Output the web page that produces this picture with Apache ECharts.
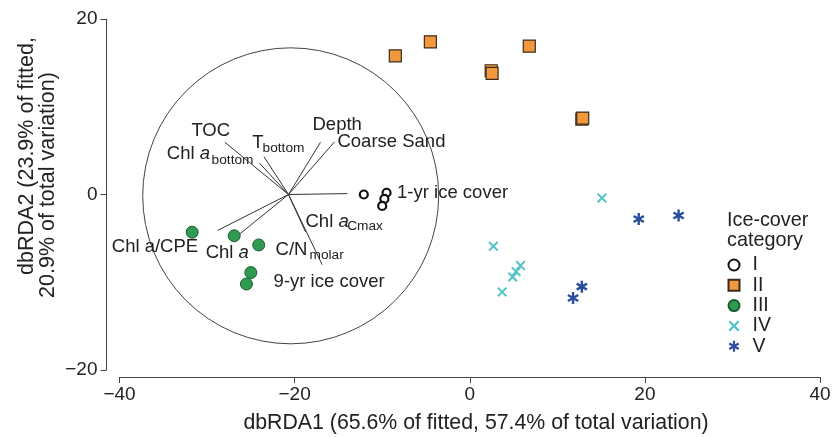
<!DOCTYPE html>
<html><head><meta charset="utf-8">
<script src="https://cdn.jsdelivr.net/npm/echarts@6/dist/echarts.min.js"></script>
<style>html,body{margin:0;padding:0;background:#fff}#c{width:833px;height:437px}</style>
</head><body><div id="c"></div>
<script>
// ---- data ----
const xTicks = [-40, -20, 0, 20, 40];
const yTicks = [-20, 0, 20];
const groupNames = ['I', 'II', 'III', 'IV', 'V'];
const catI = [[-12.1, 0.0], [-9.5, 0.2], [-9.75, -0.5], [-10.0, -1.3]];
const catII = [[-8.5, 15.8], [-4.5, 17.4], [2.45, 14.1], [2.55, 13.8], [6.8, 16.9], [12.8, 8.6], [12.9, 8.7]];
const catIII = [[-31.7, -4.3], [-26.9, -4.7], [-24.1, -5.75], [-25.0, -8.9], [-25.5, -10.2]];
const catIV = [[15.1, -0.4], [2.7, -5.9], [5.8, -8.1], [5.3, -8.8], [4.9, -9.4], [3.7, -11.1]];
const catV = [[19.3, -2.8], [23.85, -2.4], [12.8, -10.5], [11.8, -11.8]];
const vectorOrigin = [-20.7, 0.0];
const vectorNames = ['TOC', 'Chl a bottom', 'T bottom', 'Depth', 'Coarse Sand', '1-yr ice cover', 'Chl a/CPE', 'Chl a', 'C/N molar', 'Chl a Cmax'];
const vectorEnds = [[-27.96, 5.95], [-24.0, 3.56], [-23.5, 4.3], [-17.05, 5.95], [-15.45, 6.0], [-13.97, 0.1], [-28.8, -4.1], [-26.4, -4.6], [-16.85, -8.0], [-18.75, -4.27]];
const circleCenter = [-20.45, -0.15];
const circleRadius = 16.9;
const xTitle = 'dbRDA1 (65.6% of fitted, 57.4% of total variation)';
const yTitle1 = 'dbRDA2 (23.9% of fitted,';
const yTitle2 = '20.9% of total variation)';
const legendTitle = ['Ice-cover', 'category'];

const FF = '"Liberation Sans", Arial, Helvetica, sans-serif';
const INK = '#222';
const AX = '#444';

const xPath = 'path://M0,1.4L1.4,0L10,8.6L8.6,10ZM8.6,0L10,1.4L1.4,10L0,8.6Z';
const starPath = 'path://M4,10L6,10L6,0L4,0ZM8.8,8.37L9.8,6.63L1.2,1.63L0.2,3.37ZM0.2,6.63L1.2,8.37L9.8,3.37L8.8,1.63Z';

const fmt = v => (xTicks.includes(v) || yTicks.includes(v)) ? (v < 0 ? '\u2212' + Math.abs(v) : String(v)) : '';

const chart = echarts.init(document.getElementById('c'), null, {renderer: 'canvas'});
const option = {
  backgroundColor: '#fff',
  animation: false,
  grid: {left: 119.5, right: 13, top: 19, bottom: 67, containLabel: false, outerBoundsMode: 'none'},
  xAxis: {
    type: 'value', min: -40, max: 40, interval: 20, offset: 7,
    axisLine: {show: true, onZero: false, lineStyle: {color: AX, width: 1}},
    axisTick: {show: true, length: 6, lineStyle: {color: AX, width: 1}},
    axisLabel: {fontSize: 19, color: INK, margin: 8, fontFamily: FF, formatter: fmt},
    splitLine: {show: false}
  },
  yAxis: {
    type: 'value', min: -20, max: 20, interval: 20, offset: 13,
    axisLine: {show: true, onZero: false, lineStyle: {color: AX, width: 1}},
    axisTick: {show: true, length: 6, lineStyle: {color: AX, width: 1}},
    axisLabel: {fontSize: 19, color: INK, margin: 9, fontFamily: FF, formatter: fmt},
    splitLine: {show: false}
  },
  legend: {
    orient: 'vertical', left: 727.5, top: 255, padding: 0,
    itemWidth: 11, itemHeight: 11, itemGap: 0.3,
    textStyle: {fontSize: 19.5, color: INK, fontFamily: FF, lineHeight: 20, padding: [0, 0, 0, 8]},
    data: groupNames
  },
  series: [
    {
      type: 'custom', silent: true, z: 1,
      renderItem: (params, api) => {
        const c = api.coord([api.value(0), api.value(1)]);
        const r = api.size([api.value(2), 0])[0];
        return {type: 'circle', shape: {cx: c[0], cy: c[1], r: r}, style: {fill: 'none', stroke: AX, lineWidth: 1}};
      },
      data: [[circleCenter[0], circleCenter[1], circleRadius]]
    },
    {
      type: 'lines', coordinateSystem: 'cartesian2d', silent: true, z: 2,
      lineStyle: {color: '#333', width: 1, opacity: 1},
      data: vectorEnds.map(e => ({coords: [vectorOrigin, e]}))
    },
    {name: 'I', type: 'scatter', data: catI, symbol: 'circle', symbolSize: 8, z: 5,
      itemStyle: {color: '#fff', borderColor: '#111', borderWidth: 2.2, opacity: 1}},
    {name: 'II', type: 'scatter', data: catII, symbol: 'rect', symbolSize: 12, z: 5,
      itemStyle: {color: '#F2993D', borderColor: '#3b2a1c', borderWidth: 1.2, opacity: 1}},
    {name: 'III', type: 'scatter', data: catIII, symbol: 'circle', symbolSize: 12, z: 5,
      itemStyle: {color: '#2E9B50', borderColor: '#1c5e32', borderWidth: 1, opacity: 1}},
    {name: 'IV', type: 'scatter', data: catIV, symbol: xPath, symbolSize: 10, z: 5,
      itemStyle: {color: '#55C1C9', opacity: 1}},
    {name: 'V', type: 'scatter', data: catV, symbol: starPath, symbolSize: 12, symbolKeepAspect: true, z: 5,
      itemStyle: {color: '#2B4E9C', opacity: 1}}
  ]
};
chart.setOption(option);

// annotation text anchored in data coordinates (left edge, vertical middle)
const P = (x, y) => chart.convertToPixel({gridIndex: 0}, [x, y]);
const MAIN = 18.5, SUB = 13.7;
const rich = {
  n: {fontSize: MAIN, fontFamily: FF, fill: INK},
  i: {fontSize: MAIN, fontFamily: FF, fontStyle: 'italic', fill: INK}
};
const labels = [
  {t: 'TOC', at: [-31.79, 7.27]},
  {t: '{n|Chl }{i|a}', at: [-34.6, 4.62]},
  {t: 'bottom', at: [-29.48, 3.93], s: true},
  {t: 'T', at: [-24.83, 5.83]},
  {t: 'bottom', at: [-23.66, 5.26], s: true},
  {t: 'Depth', at: [-17.96, 7.92]},
  {t: 'Coarse Sand', at: [-15.11, 6.02]},
  {t: '1-yr ice cover', at: [-8.3, 0.14]},
  {t: '{n|Chl }{i|a}', at: [-18.76, -3.1]},
  {t: 'Cmax', at: [-14.0, -3.67], s: true},
  {t: 'C/N', at: [-22.18, -6.32]},
  {t: 'molar', at: [-18.3, -6.89], s: true},
  {t: 'Chl a/CPE', at: [-40.88, -5.95]},
  {t: '{n|Chl }{i|a}', at: [-30.16, -6.7]},
  {t: '9-yr ice cover', at: [-22.4, -9.97]}
];
const graphics = labels.map(l => {
  const p = P(l.at[0], l.at[1]);
  return {type: 'text', x: p[0], y: p[1], z: 10, silent: true,
    style: {text: l.t, fontSize: l.s ? SUB : MAIN, fontFamily: FF, fill: INK,
      align: 'left', verticalAlign: 'middle', rich: rich}};
});
graphics.push(
  {type: 'text', x: 476, y: 423, silent: true, style: {text: xTitle, fontSize: 21.3, fontFamily: FF, fill: INK, align: 'center', verticalAlign: 'middle'}},
  {type: 'text', x: 27, y: 156, rotation: Math.PI / 2, silent: true, style: {text: yTitle1, fontSize: 21.5, fontFamily: FF, fill: INK, align: 'center', verticalAlign: 'middle'}},
  {type: 'text', x: 48, y: 185, rotation: Math.PI / 2, silent: true, style: {text: yTitle2, fontSize: 21.5, fontFamily: FF, fill: INK, align: 'center', verticalAlign: 'middle'}},
  {type: 'text', x: 727, y: 221, silent: true, style: {text: legendTitle[0], fontSize: 19.8, fontFamily: FF, fill: INK, align: 'left', verticalAlign: 'middle'}},
  {type: 'text', x: 727, y: 240.5, silent: true, style: {text: legendTitle[1], fontSize: 19.8, fontFamily: FF, fill: INK, align: 'left', verticalAlign: 'middle'}}
);
chart.setOption({graphic: graphics});
</script>
</body></html>
